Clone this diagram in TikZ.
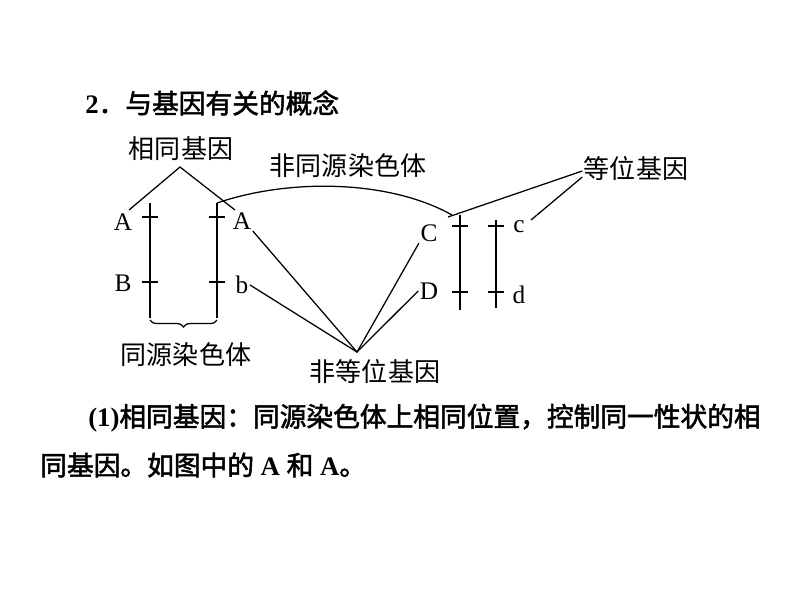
\documentclass[tikz,border=0pt]{standalone}
\usepackage{fontspec}
\setmainfont{Liberation Serif}
\newfontfamily\cjk[AutoFakeBold=2]{Noto Sans CJK SC}
\usetikzlibrary{positioning, calc, decorations.pathreplacing}

\begin{document}
\begin{tikzpicture}[x=0.025cm, y=-0.025cm,
    lbl/.style={font=\cjk\fontsize{18.5}{18.5}\selectfont, inner sep=1pt},
    gene/.style={font=\fontsize{18}{18}\selectfont, inner sep=1pt},
    para/.style={font=\bfseries\fontsize{19}{19}\selectfont, anchor=west, inner sep=0pt},
    chrom/.style={line width=1.3pt},
    link/.style={line width=0.9pt}]
  \useasboundingbox (0,0) rectangle (800,600);

  \node[para] (title) at (85,103)
    {2{\cjk ．与基因有关的概念}};

% CHROMOSOMES
  \foreach \name/\x/\top/\bot/\ta/\tb in {one/150/203/318/217/282,
      two/217/203/318/217/282, three/460/215/310/226/292, four/496/220/308/226/292} {
    \coordinate (\name top) at (\x,\top);
    \coordinate (\name bot) at (\x,\bot);
    \draw[chrom] (\name top) -- (\name bot);
    \draw[chrom] (\x-8,\ta) -- (\x+8,\ta);
    \draw[chrom] (\x-8,\tb) -- (\x+8,\tb);
  }

  \node[gene] (A1) at (123,222) {A};
  \node[gene] (B1) at (123,283) {B};
  \node[gene] (A2) at (242,221) {A};
  \node[gene] (b2) at (242,285) {b};
  \node[gene] (C3) at (429,233) {C};
  \node[gene] (D3) at (429,291) {D};
  \node[gene] (c4) at (519,227) {c};
  \node[gene] (d4) at (519,295) {d};

% LABELS
  \node[lbl] (same) at (181,149) {相同基因};
  \node[lbl] (nonhom) at (348,166) {非同源染色体};
  \node[lbl] (allele) at (636,169) {等位基因};
  \node[lbl] (nonallele) at (375,372) {非等位基因};
  \node[lbl] (hom) at (186,355) {同源染色体};

  \coordinate (sameapex) at (180,167);
  \draw[link] (129,210) -- (sameapex) -- (235,210);

  \draw[link] (twotop) .. controls (290,178) and (390,180) .. (452,215);

  \draw[link] ($(allele.west)+(0,2)$) -- (448,217);
  \draw[link] ($(allele.west)+(0,8)$) -- (531,220);

  \coordinate (nonapex) at (357,352);
  \draw[link] (A2.south east) -- (nonapex) -- (C3.south west);
  \draw[link] (b2.east) -- (nonapex) -- (D3.west);

  \draw[link, decorate, decoration={brace, mirror, amplitude=5pt}]
    ($(onebot)+(0,2)$) -- ($(twobot)+(0,2)$);

  \node[para] (line1) at (88,418)
    {(1){\cjk 相同基因：同源染色体上相同位置，控制同一性状的相}};
  \node[para] (line2) at (40,465)
    {{\cjk 同基因。如图中的} A {\cjk 和} A{\cjk 。}};
\end{tikzpicture}
\end{document}
